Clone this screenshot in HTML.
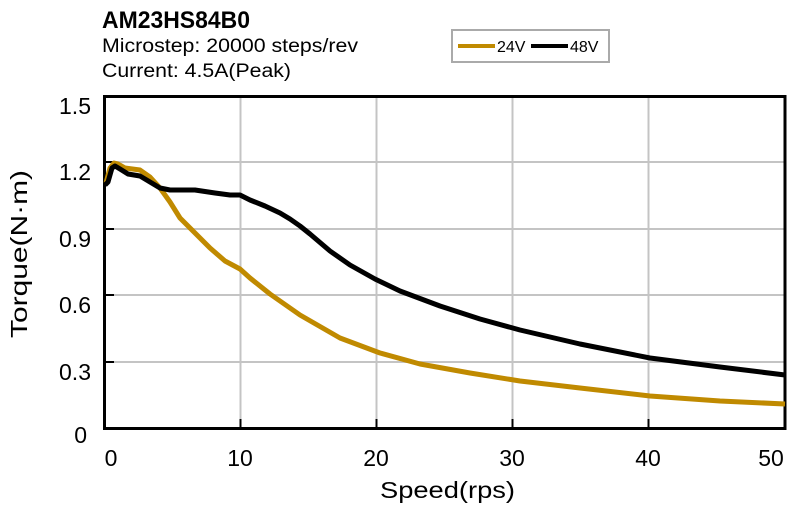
<!DOCTYPE html>
<html><head><meta charset="utf-8"><style>body{margin:0;background:#fff}svg{display:block}text{font-family:"Liberation Sans",Arial,sans-serif}</style></head>
<body>
<svg width="800" height="511" viewBox="0 0 800 511" xmlns="http://www.w3.org/2000/svg">
<text x="102" y="28" font-size="24" font-weight="bold" textLength="148" lengthAdjust="spacingAndGlyphs">AM23HS84B0</text>
<text x="102" y="52" font-size="19" textLength="256" lengthAdjust="spacingAndGlyphs">Microstep: 20000 steps/rev</text>
<text x="102" y="77" font-size="19" textLength="189" lengthAdjust="spacingAndGlyphs">Current: 4.5A(Peak)</text>
<rect x="452" y="30" width="157" height="32" fill="#fff" stroke="#aaa" stroke-width="2"/>
<line x1="458" y1="46" x2="495" y2="46" stroke="#c08a00" stroke-width="4"/>
<text x="497" y="52" font-size="16">24V</text>
<line x1="531" y1="46" x2="568" y2="46" stroke="#000" stroke-width="4"/>
<text x="570" y="52" font-size="16">48V</text>
<g stroke="#c4c4c4" stroke-width="2">
<line x1="240.5" y1="97" x2="240.5" y2="428"/><line x1="376.5" y1="97" x2="376.5" y2="428"/><line x1="512.5" y1="97" x2="512.5" y2="428"/><line x1="648.5" y1="97" x2="648.5" y2="428"/>
<line x1="105" y1="162" x2="785" y2="162"/><line x1="105" y1="229" x2="785" y2="229"/><line x1="105" y1="295" x2="785" y2="295"/><line x1="105" y1="362" x2="785" y2="362"/>
</g>
<g stroke="#000" stroke-width="2">
<line x1="105" y1="162" x2="114" y2="162"/><line x1="105" y1="229" x2="114" y2="229"/><line x1="105" y1="295" x2="114" y2="295"/><line x1="105" y1="362" x2="114" y2="362"/>
<line x1="240.5" y1="419" x2="240.5" y2="428"/><line x1="376.5" y1="419" x2="376.5" y2="428"/><line x1="512.5" y1="419" x2="512.5" y2="428"/><line x1="648.5" y1="419" x2="648.5" y2="428"/>
</g>
<rect x="104.5" y="96.5" width="680.5" height="332" fill="none" stroke="#000" stroke-width="3"/>
<polyline fill="none" stroke="#c08a00" stroke-width="5" stroke-linejoin="round" points="106,183 110,168 114,163 118,164 125,168 140,170 150,177 160,188 170,202 180,218 195,233 210,248 225,261 240,269 250,278 270,294 300,315 340,338 380,353 420,364 470,373 520,381 580,388 650,396 720,401 785,404"/>
<polyline fill="none" stroke="#000" stroke-width="5" stroke-linejoin="round" points="105,185 108,182 112,168 115,166 120,169 128,174 140,176 150,182 160,188 170,190 195,190 215,193 230,195 240,195 250,200 265,206 280,213 290,219 300,226 310,234 330,251 350,265 375,279 400,291 440,306 480,319 520,330 580,344 650,358 720,367 785,375"/>
<g font-size="23" text-anchor="end">
<text x="91" y="114">1.5</text><text x="91" y="180">1.2</text><text x="91" y="247">0.9</text><text x="91" y="313">0.6</text><text x="91" y="380">0.3</text><text x="87" y="443">0</text>
</g>
<g font-size="23" text-anchor="middle">
<text x="111" y="466">0</text><text x="240" y="466">10</text><text x="376" y="466">20</text><text x="512" y="466">30</text><text x="648" y="466">40</text><text x="771" y="466">50</text>
</g>
<text x="380" y="498" font-size="23" textLength="135" lengthAdjust="spacingAndGlyphs">Speed(rps)</text>
<text transform="translate(27,338) rotate(-90)" font-size="23" textLength="168" lengthAdjust="spacingAndGlyphs">Torque(N·m)</text>
</svg>
</body></html>
